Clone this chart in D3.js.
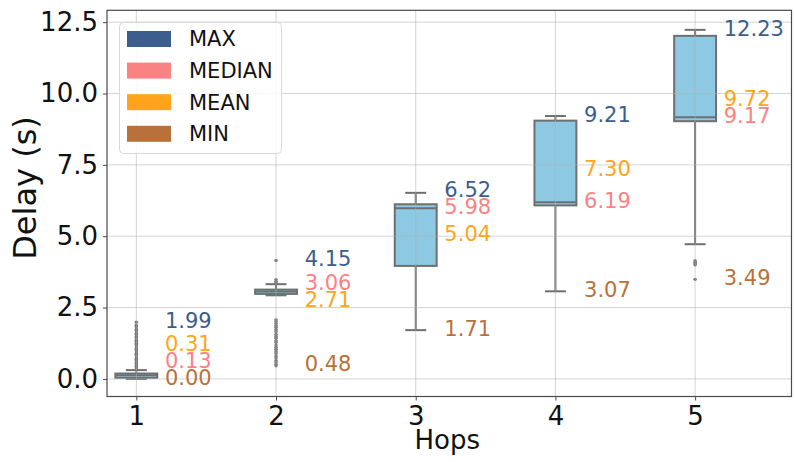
<!DOCTYPE html>
<html>
<head>
<meta charset="utf-8">
<script src="https://cdn.jsdelivr.net/npm/d3@7"></script>
<style>
  body { margin: 0; background: #fff; }
  svg { display: block; font-family: "DejaVu Sans", sans-serif; }
</style>
</head>
<body>
<svg id="chart" width="795" height="462"></svg>
<script>
// box statistics per hop count
const hops = [1, 2, 3, 4, 5];
const whiskerLow = [0.00, 2.93, 1.71, 3.07, 4.72];
const q1 = [0.04, 2.98, 3.96, 6.08, 9.03];
const q3 = [0.19, 3.13, 6.12, 9.05, 12.02];
const whiskerHigh = [0.31, 3.32, 6.52, 9.21, 12.23];
const outliers = [
  [0.38, 0.43, 0.47, 0.53, 0.57, 0.64, 0.69, 0.73, 0.81, 0.86, 0.90, 0.98, 1.03, 1.07, 1.15, 1.21, 1.25,
   1.32, 1.36, 1.44, 1.49, 1.57, 1.61, 1.69, 1.74, 1.83, 1.88, 1.99],
  [0.46, 0.51, 0.59, 0.65, 0.74, 0.80, 0.89, 0.96, 1.04, 1.11, 1.19, 1.28, 1.34, 1.43, 1.50, 1.57, 1.66,
   1.73, 1.81, 1.87, 1.94, 2.01, 2.07, 3.37, 3.42, 3.48, 4.15],
  [],
  [],
  [3.49, 4.00, 4.04, 4.09, 4.14]
];

// annotated statistics
const maxVals = [1.99, 4.15, 6.52, 9.21, 12.23];
const medianVals = [0.13, 3.06, 5.98, 6.19, 9.17];
const meanVals = [0.31, 2.71, 5.04, 7.30, 9.72];
const minVals = [0.00, 0.48, 1.71, 3.07, 3.49];

const statNames = ['MAX', 'MEDIAN', 'MEAN', 'MIN'];
const statColors = ['#3b5e8e', '#fb8283', '#ffa51c', '#b9713a'];
const yTicks = [0, 2.5, 5, 7.5, 10, 12.5];

(function draw() {
  const svg = d3.select('#chart');
  const plot = { left: 107, right: 791.5, top: 10.3, bottom: 396.5 };

  const x = d3.scaleLinear().domain([0.79, 5.69]).range([plot.left, plot.right]);
  const y = d3.scaleLinear().domain([-0.615, 12.915]).range([plot.bottom, plot.top]);

  const boxW = x(1.15) - x(0.85);
  const capW = boxW / 2;
  const edge = '#6f6f6f';

  // boxes
  const boxes = svg.append('g');
  hops.forEach((h, i) => {
    const cx = x(h);
    const g = boxes.append('g');
    g.append('line')
      .attr('x1', cx).attr('x2', cx)
      .attr('y1', y(whiskerLow[i])).attr('y2', y(q1[i]))
      .attr('stroke', edge).attr('stroke-width', 2);
    g.append('line')
      .attr('x1', cx).attr('x2', cx)
      .attr('y1', y(q3[i])).attr('y2', y(whiskerHigh[i]))
      .attr('stroke', edge).attr('stroke-width', 2);
    [whiskerLow[i], whiskerHigh[i]].forEach(v => {
      g.append('line')
        .attr('x1', cx - capW / 2).attr('x2', cx + capW / 2)
        .attr('y1', y(v)).attr('y2', y(v))
        .attr('stroke', edge).attr('stroke-width', 2);
    });
    g.append('rect')
      .attr('x', cx - boxW / 2)
      .attr('y', y(q3[i]))
      .attr('width', boxW)
      .attr('height', Math.max(1, y(q1[i]) - y(q3[i])))
      .attr('fill', '#8dc9e2')
      .attr('stroke', edge).attr('stroke-width', 2);
    g.append('line')
      .attr('x1', cx - boxW / 2).attr('x2', cx + boxW / 2)
      .attr('y1', y(medianVals[i])).attr('y2', y(medianVals[i]))
      .attr('stroke', edge).attr('stroke-width', 2);
    g.selectAll('circle')
      .data(outliers[i])
      .enter()
      .append('circle')
      .attr('cx', cx)
      .attr('cy', d => y(d))
      .attr('r', 1.7)
      .attr('fill', '#747474');
  });

  // grid on top, faint
  const grid = svg.append('g').attr('stroke', '#b0b0b0').attr('stroke-opacity', 0.55).attr('stroke-width', 1);
  yTicks.forEach(t => {
    grid.append('line').attr('x1', plot.left).attr('x2', plot.right).attr('y1', y(t)).attr('y2', y(t));
  });
  hops.forEach(h => {
    grid.append('line').attr('x1', x(h)).attr('x2', x(h)).attr('y1', plot.top).attr('y2', plot.bottom);
  });

  // value labels, pushed upward when they collide
  const labels = svg.append('g').style('font-size', '21px');
  hops.forEach((h, i) => {
    const items = [maxVals[i], medianVals[i], meanVals[i], minVals[i]]
      .map((v, k) => ({ v, k, py: y(v) }))
      .sort((a, b) => a.v - b.v);
    let prev = Infinity;
    items.forEach(d => {
      d.py = Math.min(d.py, prev - 17);
      prev = d.py;
    });
    items.forEach(d => {
      labels.append('text')
        .attr('x', x(h + 0.205))
        .attr('y', d.py - 1.5)
        .attr('dy', '0.35em')
        .attr('fill', statColors[d.k])
        .text(d.v.toFixed(2));
    });
  });

  // frame
  svg.append('rect')
    .attr('x', plot.left).attr('y', plot.top)
    .attr('width', plot.right - plot.left).attr('height', plot.bottom - plot.top)
    .attr('fill', 'none').attr('stroke', '#4a4a4a').attr('stroke-width', 1.2);

  // axes
  const yAxis = svg.append('g')
    .attr('transform', `translate(${plot.left},0)`)
    .call(d3.axisLeft(y).tickValues(yTicks).tickFormat(d3.format('.1f')).tickSize(4).tickPadding(5));
  const xAxis = svg.append('g')
    .attr('transform', `translate(0,${plot.bottom})`)
    .call(d3.axisBottom(x).tickValues(hops).tickFormat(d3.format('d')).tickSize(4).tickPadding(6));
  [yAxis, xAxis].forEach(a => {
    a.select('.domain').remove();
    a.selectAll('.tick line').attr('stroke', '#4a4a4a');
    a.selectAll('.tick text')
      .attr('fill', '#111')
      .style('font-size', '26px')
      .style('font-family', '"DejaVu Sans", sans-serif');
  });

  svg.append('text')
    .attr('x', (plot.left + plot.right) / 2 - 2)
    .attr('y', 449)
    .attr('text-anchor', 'middle')
    .attr('fill', '#111')
    .style('font-size', '26px')
    .text('Hops');

  svg.append('text')
    .attr('transform', 'translate(36,188) rotate(-90)')
    .attr('text-anchor', 'middle')
    .attr('fill', '#111')
    .style('font-size', '32px')
    .text('Delay (s)');

  // legend
  const legend = svg.append('g');
  legend.append('rect')
    .attr('x', 119.5).attr('y', 22.5)
    .attr('width', 162).attr('height', 131)
    .attr('rx', 4)
    .attr('fill', '#fff').attr('fill-opacity', 0.85)
    .attr('stroke', '#d8d8d8');
  const rows = legend.selectAll('g.row')
    .data(statNames)
    .enter()
    .append('g')
    .attr('class', 'row')
    .attr('transform', (d, i) => `translate(127, ${31 + i * 31.6})`);
  rows.append('rect')
    .attr('width', 44).attr('height', 16)
    .attr('fill', (d, i) => statColors[i]);
  rows.append('text')
    .attr('x', 62)
    .attr('y', 8)
    .attr('dy', '0.35em')
    .attr('fill', '#111')
    .style('font-size', '21px')
    .text(d => d);
})();
</script>
</body>
</html>
